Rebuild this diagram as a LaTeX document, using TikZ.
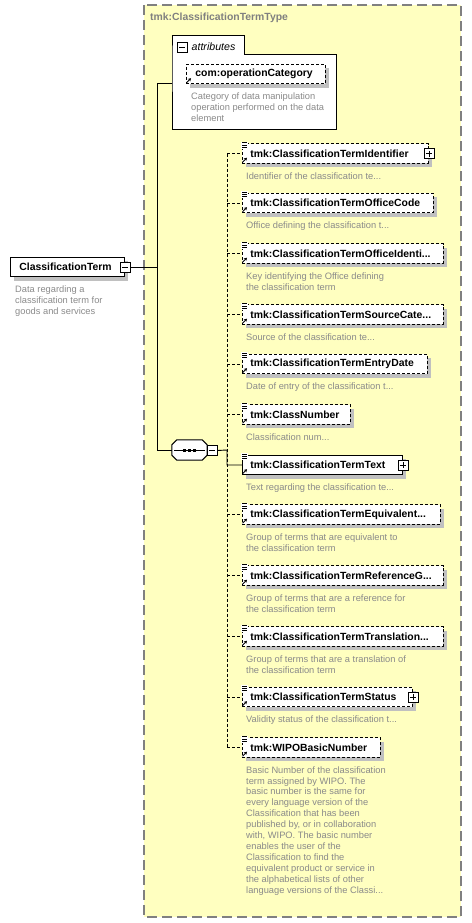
\documentclass[tikz,border=0pt]{standalone}
\usepackage{fontspec}
\setmainfont{Liberation Sans}
\usetikzlibrary{positioning,arrows.meta}
\definecolor{typeyellow}{RGB}{255,255,192}
\definecolor{titlegray}{RGB}{128,128,128}
\definecolor{descgray}{RGB}{138,138,138}
\definecolor{shadowgray}{RGB}{192,192,192}
\newcommand\xsdlabel{\fontsize{10.4}{12}\selectfont\bfseries}
\newcommand\xsddesc{\fontsize{9.3}{10.9}\selectfont}

\begin{document}
\begin{tikzpicture}[x=1pt,y=-1pt,
    typebox/.style={draw=titlegray,fill=typeyellow,line width=1.2pt,dash pattern=on 10pt off 5pt},
    boxshadow/.style={preaction={draw=none,fill=shadowgray,transform canvas={shift={(4pt,-4pt)}}}},
    elem/.style={draw,fill=white,line width=0.9pt,dash pattern=on 3pt off 2pt,
        anchor=west,inner xsep=8pt,inner ysep=0pt,minimum height=19.5pt,
        text width=#1,align=left,font=\xsdlabel,boxshadow},
    desc/.style={inner sep=0pt,align=left,text=descgray,font=\xsddesc},
    pmbox/.style={draw,fill=white,line width=0.8pt,minimum size=10pt,inner sep=0pt},
    minusbox/.style={pmbox,path picture={
        \draw[line width=0.8pt] ([xshift=2pt]path picture bounding box.west) -- ([xshift=-2pt]path picture bounding box.east);}},
    plusbox/.style={pmbox,path picture={
        \draw[line width=0.8pt] ([xshift=2pt]path picture bounding box.west) -- ([xshift=-2pt]path picture bounding box.east)
            ([yshift=-2pt]path picture bounding box.north) -- ([yshift=2pt]path picture bounding box.south);}},
    link/.style={line width=0.9pt},
    optlink/.style={link,dash pattern=on 3pt off 2pt}]
    \useasboundingbox (0,0) rectangle (471,923);

    % complex type frame
    \draw[typebox] (144,5) rectangle (461,917);
    \node[anchor=west,inner sep=0pt,text=titlegray,font=\xsdlabel] (typename) at (150,18) {tmk:ClassificationTermType};

    % attributes
    \draw[fill=white,line width=1pt] (172,55) -- (172,36) -- (244,36) -- (244,55) -- (336,55) -- (336,130) -- (172,130) -- cycle;
    \node[minusbox] (attrminus) at (182,47) {};
    \node[anchor=west,inner sep=0pt,font=\fontsize{10.6}{12}\selectfont\itshape] (attrlabel) at (191.5,47) {attributes};
    \node[elem=121,inner xsep=9pt] (opcat) at (186,74) {com:operationCategory};
    \node[desc,below=8.5pt of opcat.south west,anchor=north west,xshift=5pt] (opcatdesc)
        {Category of data manipulation\\operation performed on the data\\element};
    \coordinate (attr) at (172,83);

    % root element
    \node[elem=96,inner xsep=9pt,solid] (term) at (10,267) {ClassificationTerm};
    \node[minusbox] (termminus) at (term.east) {};
    \node[desc,below=8.5pt of term.south west,anchor=north west,xshift=5pt] (termdesc)
        {Data regarding a\\classification term for\\goods and services};
    \coordinate (trunk) at (157,267);

    % sequence
    \node[minimum width=35pt,minimum height=20pt,inner sep=0pt] (seq) at (189.5,450) {};
    \fill[shadowgray,shift={(3,3)}] ([xshift=5pt]seq.north west) -- ([xshift=-5pt]seq.north east) -- ([yshift=-5pt]seq.north east)
        -- ([yshift=5pt]seq.south east) -- ([xshift=-5pt]seq.south east) -- ([xshift=5pt]seq.south west)
        -- ([yshift=5pt]seq.south west) -- ([yshift=-5pt]seq.north west) -- cycle;
    \draw[fill=white,line width=1pt] ([xshift=5pt]seq.north west) -- ([xshift=-5pt]seq.north east) -- ([yshift=-5pt]seq.north east)
        -- ([yshift=5pt]seq.south east) -- ([xshift=-5pt]seq.south east) -- ([xshift=5pt]seq.south west)
        -- ([yshift=5pt]seq.south west) -- ([yshift=-5pt]seq.north west) -- cycle;
    \draw[line width=1pt] ([xshift=2pt]seq.west) -- ([xshift=-2pt]seq.east);
    \foreach \dx in {-5,0,5}
        \fill ([shift={(\dx-1.5,-1.5)}]seq.center) rectangle +(3,3);
    \node[minusbox] (seqminus) at (212,450.5) {};
    \coordinate (spine) at (227,450);

    % children
    \node[elem=170] (e1) at (242,153.5) {tmk:ClassificationTermIdentifier};
    \node[elem=175] (e2) at (242,203) {tmk:ClassificationTermOfficeCode};
    \node[elem=185] (e3) at (242,253.5) {tmk:ClassificationTermOfficeIdenti...};
    \node[elem=185] (e4) at (242,314.5) {tmk:ClassificationTermSourceCate...};
    \node[elem=169] (e5) at (242,364) {tmk:ClassificationTermEntryDate};
    \node[elem=92] (e6) at (242,414.5) {tmk:ClassNumber};
    \node[elem=144,solid] (e7) at (242,465) {tmk:ClassificationTermText};
    \node[elem=182] (e8) at (242,514.5) {tmk:ClassificationTermEquivalent...};
    \node[elem=185] (e9) at (242,575.5) {tmk:ClassificationTermReferenceG...};
    \node[elem=185] (e10) at (242,636.5) {tmk:ClassificationTermTranslation...};
    \node[elem=154] (e11) at (242,697) {tmk:ClassificationTermStatus};
    \node[elem=122] (e12) at (242,747.5) {tmk:WIPOBasicNumber};

    \node[plusbox] (e1plus) at (e1.east) {};
    \node[plusbox] (e7plus) at (e7.east) {};
    \node[plusbox] (e11plus) at (e11.east) {};

    \node[desc,below=8.5pt of e1.south west,anchor=north west,xshift=4pt] (d1) {Identifier of the classification te...};
    \node[desc,below=8.5pt of e2.south west,anchor=north west,xshift=4pt] (d2) {Office defining the classification t...};
    \node[desc,below=8.5pt of e3.south west,anchor=north west,xshift=4pt] (d3) {Key identifying the Office defining\\the classification term};
    \node[desc,below=8.5pt of e4.south west,anchor=north west,xshift=4pt] (d4) {Source of the classification te...};
    \node[desc,below=8.5pt of e5.south west,anchor=north west,xshift=4pt] (d5) {Date of entry of the classification t...};
    \node[desc,below=8.5pt of e6.south west,anchor=north west,xshift=4pt] (d6) {Classification num...};
    \node[desc,below=8.5pt of e7.south west,anchor=north west,xshift=4pt] (d7) {Text regarding the classification te...};
    \node[desc,below=8.5pt of e8.south west,anchor=north west,xshift=4pt] (d8) {Group of terms that are equivalent to\\the classification term};
    \node[desc,below=8.5pt of e9.south west,anchor=north west,xshift=4pt] (d9) {Group of terms that are a reference for\\the classification term};
    \node[desc,below=8.5pt of e10.south west,anchor=north west,xshift=4pt] (d10) {Group of terms that are a translation of\\the classification term};
    \node[desc,below=8.5pt of e11.south west,anchor=north west,xshift=4pt] (d11) {Validity status of the classification t...};
    \node[desc,below=8.5pt of e12.south west,anchor=north west,xshift=4pt] (d12)
        {Basic Number of the classification\\term assigned by WIPO. The\\basic number is the same for\\every language version of the\\Classification that has been\\published by, or in collaboration\\with, WIPO. The basic number\\enables the user of the\\Classification to find the\\equivalent product or service in\\the alphabetical lists of other\\language versions of the Classi...};

    % element icons
    \foreach \i in {1,...,12} {
        \fill[white] ([shift={(-1,-1.5)}]e\i.north west) rectangle +(7,7);
        \draw[line width=0.8pt] ([shift={(0,-0.5)}]e\i.north west) -- +(5,0)
            ([shift={(0,1.7)}]e\i.north west) -- +(5,0)
            ([shift={(0,3.9)}]e\i.north west) -- +(5,0);
        \draw[line width=0.9pt,-{Stealth[length=3pt,width=3.5pt]}] ([shift={(0.5,-1.5)}]e\i.south west) -- ([shift={(5,-6)}]e\i.south west);
    }
    \draw[line width=0.9pt,-{Stealth[length=3pt,width=3.5pt]}] ([shift={(0.5,-1.5)}]opcat.south west) -- ([shift={(5,-6)}]opcat.south west);

    % connectors
    \draw[link] (termminus.east) -- (trunk);
    \draw[link] (attr) -- (trunk |- attr) -- (trunk |- seq) -- (seq.west);
    \draw[optlink] (spine |- e1) -- (spine |- e12);
    \draw[link] (seqminus.east) -- (spine) -- (spine |- e7) -- (e7.west);
    \foreach \i in {1,2,3,4,5,6,8,9,10,11,12}
        \draw[optlink] (spine |- e\i) -- (e\i.west);
\end{tikzpicture}
\end{document}
